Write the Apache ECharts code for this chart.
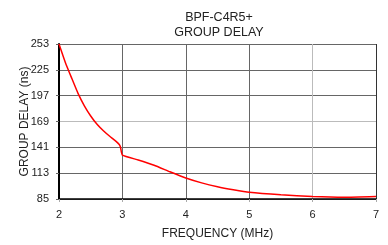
<!DOCTYPE html>
<html>
<head>
<meta charset="utf-8">
<script src="https://cdn.jsdelivr.net/npm/echarts@6/dist/echarts.min.js"></script>
<style>
  html, body { margin: 0; padding: 0; background: #fff; }
  #chart { width: 388px; height: 245px; }
</style>
</head>
<body>
<div id="chart"></div>
<script>
// frequency (MHz) and group delay (ns)
const freq = [2.0, 2.1, 2.2, 2.3, 2.4, 2.5, 2.6, 2.7, 2.8, 2.9, 2.95, 2.97, 3.0,
  3.25, 3.5, 3.75, 4.0, 4.25, 4.5, 4.75, 5.0, 5.5, 6.0, 6.5, 7.0]
const delay = [253, 233, 216, 199.5, 186, 175, 166, 159, 153, 147.5, 144, 141, 132.5,
  127.3, 121.5, 114.5, 107.8, 102.5, 98.3, 95, 92.2, 89.5, 87.7, 86.9, 87.7]
const yTicks = [85, 113, 141, 169, 197, 225, 253]
const xTicks = [2, 3, 4, 5, 6, 7]

const font = 'Liberation Sans, Arial, sans-serif'
const dom = echarts.init(document.getElementById('chart'))
const option = {
  animation: false,
  title: {
    text: 'BPF-C4R5+\nGROUP DELAY',
    left: 214,
    textAlign: 'center',
    top: 5,
    textStyle: { fontFamily: font, fontSize: 12.5, fontWeight: 'normal', color: '#222', lineHeight: 15 }
  },
  grid: { left: 59, right: 12, top: 44, bottom: 36 },
  xAxis: {
    type: 'value',
    min: 2,
    max: 7,
    interval: 1,
    name: 'FREQUENCY (MHz)',
    nameLocation: 'middle',
    nameGap: 29,
    nameMoveOverlap: false,
    nameTextStyle: { fontFamily: font, fontSize: 12, color: '#222' },
    axisLine: { lineStyle: { color: '#000', width: 1.5 } },
    axisTick: { length: 3, lineStyle: { color: '#aaa' } },
    axisLabel: { fontFamily: font, fontSize: 11, color: '#222', margin: 10 },
    splitLine: {
      show: true,
      lineStyle: { color: xTicks.map(v => v === 6 ? '#bbb' : (v === 7 ? '#333' : '#666')), width: 1 }
    }
  },
  yAxis: {
    type: 'value',
    min: 85,
    max: 253,
    interval: 28,
    name: 'GROUP DELAY (ns)',
    nameLocation: 'middle',
    nameGap: 28,
    nameMoveOverlap: false,
    nameTextStyle: { fontFamily: font, fontSize: 12, color: '#222' },
    axisLine: { show: true, lineStyle: { color: '#000', width: 2 } },
    axisTick: { show: true, length: 3, lineStyle: { color: '#666' } },
    axisLabel: {
      fontFamily: font, fontSize: 11, color: '#222', margin: 10,
      formatter: v => yTicks.includes(v) ? String(v) : ''
    },
    splitLine: {
      show: true,
      lineStyle: { color: yTicks.map(v => v === 169 ? '#bbb' : '#666'), width: 1 }
    }
  },
  series: [
    {
      type: 'line',
      data: freq.map((f, i) => [f, delay[i]]),
      smooth: 0.15,
      showSymbol: false,
      lineStyle: { color: '#ff0000', width: 1.5 }
    }
  ]
}
dom.setOption(option)
</script>
</body>
</html>
